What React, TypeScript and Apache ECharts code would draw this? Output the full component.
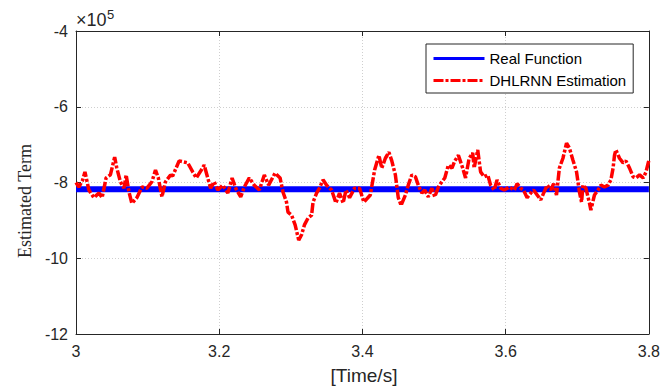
import React, { useEffect, useRef } from "react";
import * as echarts from "echarts";

// Time axis ticks
const xTicks = [3, 3.2, 3.4, 3.6, 3.8];
const yTicks = [-12, -10, -8, -6, -4]; // ×10^5

// Real function (×10^5)
const realTime = [3, 3.8];
const realValue = [-8.18, -8.18];

// DHLRNN estimation (×10^5)
const estTime = [
  3.0, 3.004, 3.009, 3.0125, 3.018, 3.025, 3.032, 3.0365, 3.042, 3.048, 3.054, 3.057, 3.062, 3.067, 3.07, 3.074,
  3.078, 3.085, 3.092, 3.099, 3.106, 3.111, 3.115, 3.12, 3.125, 3.132,
  3.135, 3.144, 3.156, 3.163, 3.168, 3.175, 3.179, 3.184, 3.188, 3.193, 3.198, 3.205, 3.212, 3.218, 3.223, 3.23,
  3.235, 3.242, 3.249, 3.256, 3.263, 3.269,
  3.278, 3.285, 3.289, 3.294, 3.296, 3.301, 3.306, 3.311, 3.315, 3.319, 3.324, 3.329, 3.331, 3.336, 3.34, 3.345,
  3.35, 3.357, 3.363, 3.368, 3.373, 3.377, 3.382, 3.389, 3.396, 3.402,
  3.411, 3.417, 3.423, 3.427, 3.432, 3.437, 3.441, 3.446, 3.45, 3.454, 3.46, 3.464, 3.469, 3.474, 3.478, 3.483,
  3.487, 3.492, 3.497, 3.501, 3.506, 3.511, 3.515, 3.52, 3.525, 3.529, 3.534,
  3.54, 3.544, 3.549, 3.554, 3.556, 3.561, 3.565, 3.57, 3.575, 3.579, 3.584, 3.588, 3.593, 3.598, 3.605, 3.612,
  3.616, 3.621, 3.625, 3.63, 3.635, 3.639, 3.644, 3.649, 3.653, 3.658, 3.663, 3.667,
  3.671, 3.675, 3.68, 3.685, 3.689, 3.694, 3.699, 3.703, 3.706, 3.708, 3.712, 3.717, 3.719, 3.724, 3.729, 3.733,
  3.738, 3.743, 3.747, 3.75, 3.752, 3.754, 3.759, 3.764, 3.768, 3.773, 3.778, 3.782, 3.787, 3.792, 3.796, 3.8,
];
const estValue = [
  -8.0, -8.12, -7.95, -7.72, -8.2, -8.4, -8.28, -8.4, -7.88, -7.8, -7.33, -7.62, -7.98, -8.15, -7.8, -8.25,
  -8.55, -8.4, -8.12, -8.15, -7.98, -7.67, -7.88, -8.38, -7.98, -7.8,
  -7.83, -7.43, -7.48, -7.72, -7.88, -7.67, -7.54, -7.88, -8.15, -7.98, -8.2, -8.07, -8.28, -7.88, -8.15, -8.38,
  -8.12, -7.88, -8.07, -8.2, -7.8, -8.07,
  -7.75, -7.88, -8.25, -8.52, -8.78, -8.86, -9.12, -9.52, -9.38, -9.12, -8.94, -8.86, -8.52, -8.28, -8.15, -7.93,
  -8.07, -8.2, -8.54, -8.28, -8.54, -8.2, -8.4, -8.15, -8.15, -8.52,
  -8.33, -7.67, -7.28, -7.62, -7.36, -7.2, -7.43, -7.8, -8.4, -8.6, -8.33, -8.07, -7.8, -7.85, -8.07, -8.28,
  -8.2, -8.38, -8.15, -8.38, -8.12, -7.98, -7.88, -7.54, -7.62, -7.43, -7.28,
  -7.62, -7.88, -7.36, -7.22, -7.62, -7.14, -7.72, -7.85, -7.8, -8.07, -8.2, -7.93, -8.15, -8.2, -8.12, -8.2,
  -8.03, -8.15, -8.2, -8.4, -8.28, -8.2, -8.33, -8.46, -8.28, -8.07, -8.2, -8.03,
  -8.33, -7.62, -7.36, -6.96, -7.09, -7.41, -7.72, -8.25, -8.52, -8.07, -8.15, -8.54, -8.73, -8.33, -8.2, -8.07,
  -8.12, -8.07, -7.93, -7.62, -7.28, -7.14, -7.36, -7.48, -7.43, -7.62, -7.85, -7.88, -7.8, -7.88, -7.72, -7.41,
];

const TXT = "#262626";
const SANS = "'Liberation Sans', Arial, sans-serif";

export default function App() {
  const ref = useRef<HTMLDivElement>(null);
  useEffect(() => {
    if (!ref.current) return;
    const chart = echarts.init(ref.current, undefined, { renderer: "svg" });
    const fmtX = (v: number) => String(+v.toFixed(1));
    const fmtY = (v: number) => String(Math.round(v));
    const gridSplit = { show: true, lineStyle: { color: "#cfcfcf", type: [1, 2] as any, width: 1 } };
    const axisLine = { show: true, onZero: false, lineStyle: { color: TXT, width: 1 } };
    chart.setOption({
      animation: false,
      backgroundColor: "#fff",
      grid: { left: 76, right: 11, top: 31, bottom: 58, containLabel: false },
      legend: {
        orient: "vertical",
        left: 426,
        top: 44,
        padding: [7, 7, 5, 6],
        itemWidth: 51,
        itemHeight: 14,
        itemGap: 7,
        borderColor: TXT,
        borderWidth: 1,
        borderRadius: 0,
        backgroundColor: "#fff",
        textStyle: { fontSize: 15, color: "#000", fontFamily: SANS },
        data: [
          { name: "Real Function", itemStyle: { opacity: 0 }, lineStyle: { width: 3, opacity: 1 } },
          { name: "DHLRNN Estimation", itemStyle: { opacity: 0 }, lineStyle: { width: 3, opacity: 1 } },
        ],
      },
      xAxis: [
        {
          type: "value",
          min: xTicks[0],
          max: xTicks[xTicks.length - 1],
          interval: 0.2,
          axisLine,
          axisTick: { show: true, inside: true, length: 5, lineStyle: { color: TXT } },
          axisLabel: { formatter: fmtX, fontSize: 16, color: TXT, fontFamily: SANS, margin: 9 },
          splitLine: gridSplit,
        },
        {
          type: "value",
          position: "top",
          min: xTicks[0],
          max: xTicks[xTicks.length - 1],
          interval: 0.2,
          axisLine,
          axisTick: { show: true, inside: true, length: 5, lineStyle: { color: TXT } },
          axisLabel: { show: false },
          splitLine: { show: false },
        },
      ],
      yAxis: [
        {
          type: "value",
          min: yTicks[0],
          max: yTicks[yTicks.length - 1],
          interval: 2,
          axisLine,
          axisTick: { show: true, inside: true, length: 5, lineStyle: { color: TXT } },
          axisLabel: { formatter: fmtY, fontSize: 16, color: TXT, fontFamily: SANS, margin: 8 },
          splitLine: gridSplit,
        },
        {
          type: "value",
          position: "right",
          min: yTicks[0],
          max: yTicks[yTicks.length - 1],
          interval: 2,
          axisLine,
          axisTick: { show: true, inside: true, length: 5, lineStyle: { color: TXT } },
          axisLabel: { show: false },
          splitLine: { show: false },
        },
      ],
      series: [
        {
          name: "Real Function",
          type: "line",
          showSymbol: false,
          symbol: "none",
          lineStyle: { color: "#0000ff", width: 6 },
          itemStyle: { color: "#0000ff" },
          data: realTime.map((t, i) => [t, realValue[i]]),
          z: 2,
        },
        {
          name: "DHLRNN Estimation",
          type: "line",
          showSymbol: false,
          symbol: "none",
          lineStyle: { color: "#ff0000", width: 3.5, type: [10, 2, 3, 2] as any },
          itemStyle: { color: "#ff0000" },
          data: estTime.map((t, i) => [t, estValue[i]]),
          z: 3,
        },
      ],
      graphic: [
        {
          type: "text",
          x: 76,
          y: 20,
          style: { text: "×10", font: `18px ${SANS}`, fill: TXT, verticalAlign: "middle", align: "left" },
        },
        {
          type: "text",
          x: 107,
          y: 14,
          style: { text: "5", font: `13px ${SANS}`, fill: TXT, verticalAlign: "middle", align: "left" },
        },
        {
          type: "text",
          x: 25,
          y: 201,
          rotation: Math.PI / 2,
          style: {
            text: "Estimated Term",
            font: `18px 'Liberation Serif', 'Times New Roman', serif`,
            fill: TXT,
            align: "center",
            verticalAlign: "middle",
          },
        },
        {
          type: "text",
          x: 364,
          y: 375,
          style: { text: "[Time/s]", font: `19px ${SANS}`, fill: TXT, align: "center", verticalAlign: "middle" },
        },
      ],
    });
    return () => chart.dispose();
  }, []);
  return <div ref={ref} style={{ width: 663, height: 392, position: "absolute", left: 0, top: 0 }} />;
}
